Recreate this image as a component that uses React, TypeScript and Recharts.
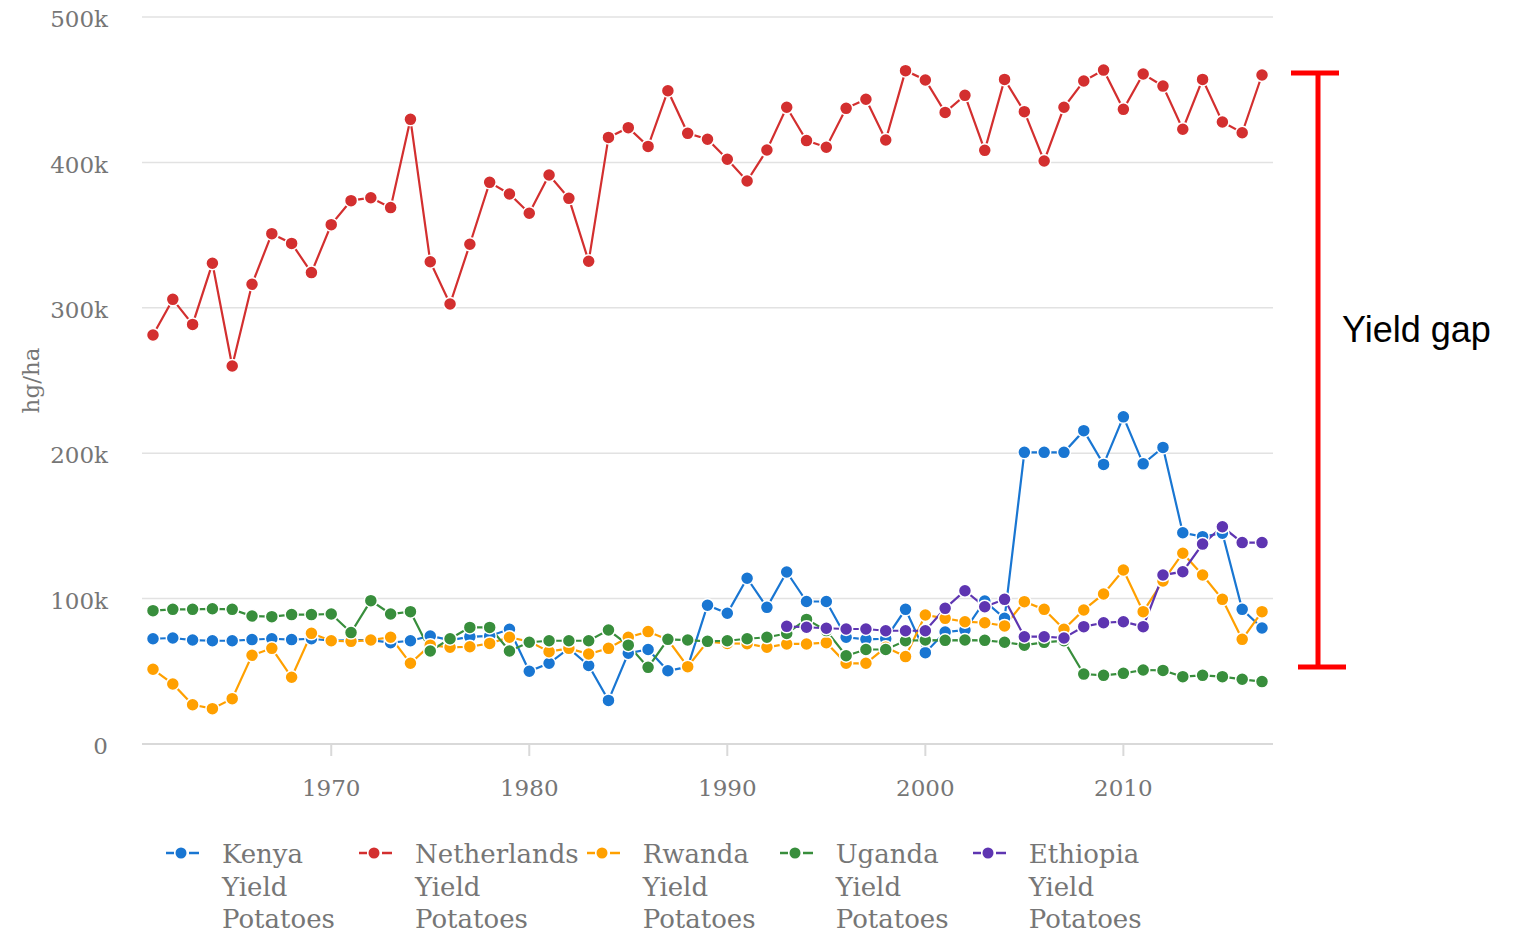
import React from 'react';
import { LineChart, Line, XAxis, YAxis, CartesianGrid, Legend } from 'recharts';

const years = [
  1961, 1962, 1963, 1964, 1965, 1966, 1967, 1968, 1969, 1970,
  1971, 1972, 1973, 1974, 1975, 1976, 1977, 1978, 1979, 1980,
  1981, 1982, 1983, 1984, 1985, 1986, 1987, 1988, 1989, 1990,
  1991, 1992, 1993, 1994, 1995, 1996, 1997, 1998, 1999, 2000,
  2001, 2002, 2003, 2004, 2005, 2006, 2007, 2008, 2009, 2010,
  2011, 2012, 2013, 2014, 2015, 2016, 2017,
];

const kenya = [
  72400, 72900, 71500, 71000, 71000, 71800, 72400, 71800, 72400, 71000,
  71500, 71500, 69700, 71000, 74300, 71500, 73700, 74300, 78900, 50000,
  55500, 65800, 54000, 30000, 62400, 65000, 50400, 53000, 95400, 89900,
  114000, 94000, 118300, 98000, 98000, 73400, 72000, 72400, 92600, 62800,
  77000, 78400, 98300, 86400, 200600, 200600, 200600, 215500, 192300, 225000,
  192700, 204000, 145300, 142600, 145000, 92600, 79800,
];

const netherlands = [
  281300, 305800, 288600, 330600, 260000, 316200, 351000, 344300, 324200, 357200,
  373700, 375700, 368900, 429600, 331700, 302600, 343700, 386300, 378300, 365000,
  391300, 375300, 332000, 417200, 423900, 411000, 449300, 420000, 415900, 402200,
  387200, 408500, 437900, 415000, 410400, 437200, 443400, 415400, 463100, 456700,
  434400, 446100, 408300, 457100, 434900, 401000, 437900, 456000, 463500, 436500,
  460800, 452500, 422800, 457100, 427800, 420400, 460100,
];

const rwanda = [
  51400, 41300, 27000, 24300, 31200, 61000, 65800, 45900, 76100, 71000,
  70600, 71500, 73400, 55500, 68000, 66500, 66900, 69200, 73400, 70400,
  63500, 65800, 61900, 65800, 73400, 77300, 71700, 53200, 70400, 69200,
  69000, 66500, 68800, 68800, 69700, 55500, 55500, 66500, 60100, 88700,
  86400, 84100, 83400, 81200, 97900, 92600, 78900, 92200, 103200, 119700,
  91000, 112100, 131200, 116200, 99500, 72000, 91000,
];

const uganda = [
  91700, 92600, 92600, 93000, 92600, 88000, 87600, 89000, 89000, 89400,
  76600, 98600, 89400, 91000, 64000, 72400, 80200, 80200, 64000, 70000,
  71000, 71000, 71000, 78400, 68000, 52700, 72000, 71500, 70600, 71000,
  72400, 73400, 76000, 85700, 78000, 60700, 65000, 65000, 71000, 71500,
  71300, 71500, 71300, 70000, 68000, 69900, 71000, 48100, 47200, 48600,
  50900, 50600, 46300, 47200, 46300, 44500, 42900,
];

const ethiopia = [
  null, null, null, null, null, null, null, null, null, null,
  null, null, null, null, null, null, null, null, null, null,
  null, null, null, null, null, null, null, null, null, null,
  null, null, 80900, 80300, 79600, 79100, 79100, 77900, 77900, 77900,
  93300, 105400, 94400, 99500, 73800, 73800, 72900, 80700, 83400, 84100,
  80700, 116200, 118500, 137500, 149400, 138500, 138500,
];

const xTicks = [1970, 1980, 1990, 2000, 2010];
const yTicks = [0, 100000, 200000, 300000, 400000, 500000];

const seriesNames = [
  'Kenya Yield Potatoes',
  'Netherlands Yield Potatoes',
  'Rwanda Yield Potatoes',
  'Uganda Yield Potatoes',
  'Ethiopia Yield Potatoes',
];
const seriesKeys = ['kenya', 'netherlands', 'rwanda', 'uganda', 'ethiopia'];
const seriesColors = ['#1976D2', '#D32F2F', '#FFA000', '#388E3C', '#5E35B1'];
const seriesValues = [kenya, netherlands, rwanda, uganda, ethiopia];

const data = years.map((year, i) => {
  const row: Record<string, number | null> = { year };
  seriesKeys.forEach((k, s) => {
    row[k] = seriesValues[s][i];
  });
  return row;
});

const TEXT_COLOR = '#767676';
const FONT = '"DejaVu Serif", serif';

const fmtY = (v: number) => (v === 0 ? '0' : `${v / 1000}k`);

const YTick = (props: any) => {
  const { x, y, payload } = props;
  return (
    <text x={x} y={y + 2} dy="0.355em" textAnchor="end" fill={TEXT_COLOR} fontSize={23} fontFamily={FONT}>
      {fmtY(payload.value)}
    </text>
  );
};

const XTick = (props: any) => {
  const { x, y, payload } = props;
  return (
    <text x={x} y={y} dy="0.71em" textAnchor="middle" fill={TEXT_COLOR} fontSize={23} fontFamily={FONT}>
      {payload.value}
    </text>
  );
};

const YLabel = (props: any) => {
  const vb = props.viewBox || { y: 17, height: 727 };
  const cx = 31;
  const cy = vb.y + vb.height / 2;
  return (
    <text
      x={cx}
      y={cy}
      dy="0.35em"
      transform={`rotate(-90 ${cx} ${cy})`}
      textAnchor="middle"
      fill={TEXT_COLOR}
      fontSize={23}
      fontFamily={FONT}
    >
      hg/ha
    </text>
  );
};

const LegendContent = (props: any) => {
  const items = [...(props.payload || [])].sort(
    (a: any, b: any) => seriesNames.indexOf(a.value) - seriesNames.indexOf(b.value)
  );
  return (
    <div
      style={{
        display: 'flex',
        alignItems: 'flex-start',
        fontFamily: FONT,
        fontSize: 26,
        color: TEXT_COLOR,
        lineHeight: '32.5px',
      }}
    >
      {items.map((entry: any) => (
        <div key={entry.value} style={{ display: 'flex', alignItems: 'flex-start' }}>
          <svg width={34} height={32} style={{ marginRight: 22, flex: 'none', display: 'block' }}>
            <line x1={0} y1={15} x2={8} y2={15} stroke={entry.color} strokeWidth={2.5} />
            <circle cx={15} cy={15} r={5.5} fill={entry.color} />
            <line x1={23} y1={15} x2={33} y2={15} stroke={entry.color} strokeWidth={2.5} />
          </svg>
          <div style={{ width: 'min-content', minWidth: 129, marginRight: 8 }}>{entry.value}</div>
        </div>
      ))}
    </div>
  );
};

export default function App() {
  return (
    <div style={{ position: 'absolute', left: 0, top: 0, width: 1521, height: 932, background: '#fff' }}>
      <LineChart
        width={1521}
        height={932}
        data={data}
        margin={{ top: 17, right: 248, bottom: 148, left: 0 }}
        style={{ fontFamily: FONT }}
      >
        <CartesianGrid vertical={false} stroke="#e2e2e2" strokeWidth={1.5} />
        <XAxis
          dataKey="year"
          type="number"
          domain={[1961, 2017]}
          ticks={xTicks}
          padding={{ left: 11, right: 11 }}
          height={40}
          tickSize={12}
          tickMargin={24}
          axisLine={{ stroke: '#d9d9d9', strokeWidth: 2 }}
          tickLine={{ stroke: '#d9d9d9', strokeWidth: 2 }}
          tick={<XTick />}
          interval={0}
        />
        <YAxis
          type="number"
          domain={[0, 500000]}
          ticks={yTicks}
          width={142}
          axisLine={false}
          tickLine={false}
          tickSize={0}
          tickMargin={34}
          tick={<YTick />}
          interval={0}
          label={<YLabel />}
        />
        <Legend
          layout="horizontal"
          verticalAlign="middle"
          align="center"
          width={1200}
          wrapperStyle={{ left: 166, top: 838 }}
          content={<LegendContent />}
        />
        {seriesKeys.map((k, s) => (
          <Line
            key={k}
            dataKey={k}
            name={seriesNames[s]}
            type="linear"
            stroke={seriesColors[s]}
            strokeWidth={2.2}
            dot={{ r: 6.5, fill: seriesColors[s], stroke: '#ffffff', strokeWidth: 1.5 }}
            activeDot={false}
            isAnimationActive={false}
            connectNulls={false}
          />
        ))}
      </LineChart>
      <svg
        width={1521}
        height={932}
        style={{ position: 'absolute', left: 0, top: 0, pointerEvents: 'none' }}
      >
        <line x1={1318} y1={71} x2={1318} y2={669} stroke="#ff0000" strokeWidth={5} />
        <line x1={1291} y1={73} x2={1339} y2={73} stroke="#ff0000" strokeWidth={5} />
        <line x1={1298} y1={667} x2={1346} y2={667} stroke="#ff0000" strokeWidth={5} />
        <text x={1342} y={342} fontSize={36} fontFamily='"Liberation Sans", Arial, sans-serif' fill="#000">
          Yield gap
        </text>
      </svg>
    </div>
  );
}
